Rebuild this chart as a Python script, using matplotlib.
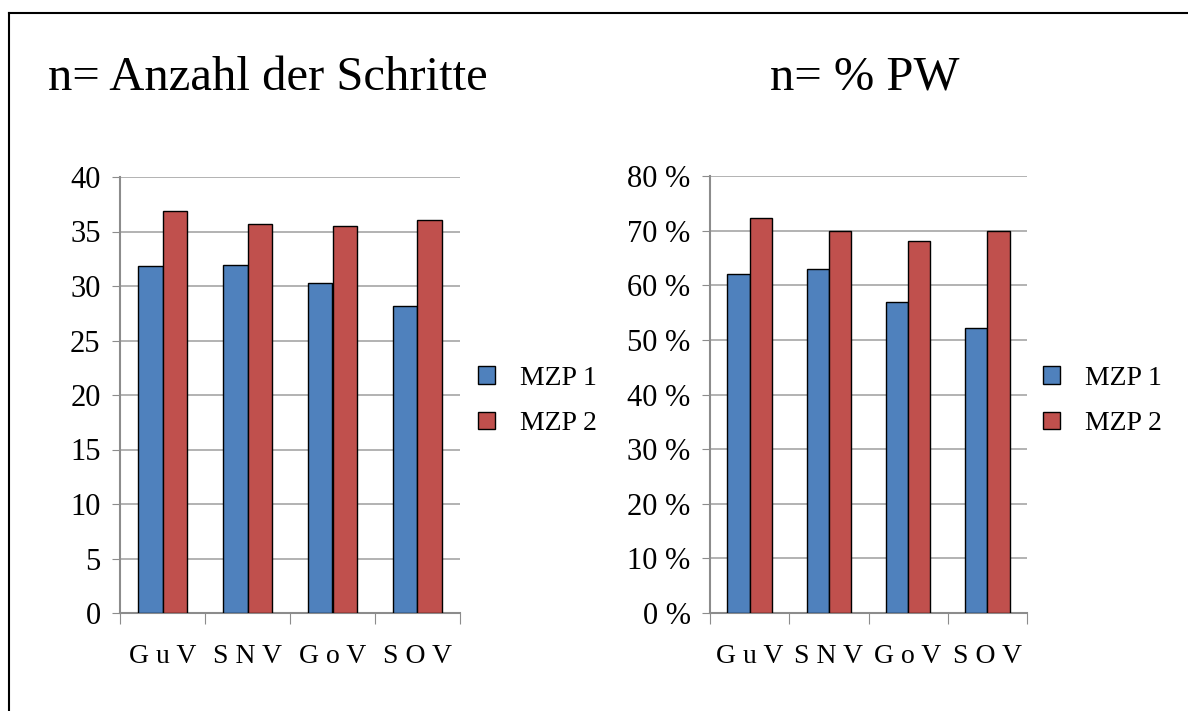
import matplotlib
matplotlib.use('Agg')
import matplotlib.pyplot as plt
from matplotlib.lines import Line2D
from matplotlib.patches import Patch
import numpy as np

plt.rcParams['font.family'] = ['Liberation Serif', 'DejaVu Serif']

kategorien = ['G u V', 'S N V', 'G o V', 'S O V']
schritte_mzp1 = [31.8, 31.9, 30.3, 28.2]
schritte_mzp2 = [36.9, 35.7, 35.5, 36.1]
pw_mzp1 = [62.1, 62.9, 57.0, 52.2]
pw_mzp2 = [72.4, 70.0, 68.1, 70.0]

blau = '#4F81BD'
rot = '#C0504D'
grau = '#8C8C8C'

fig = plt.figure(figsize=(11.88, 7.11), dpi=100)

# Rahmen links und oben
fig.add_artist(Line2D([9/1188, 9/1188], [0, 1 - 13/711], color='black', lw=1.5, transform=fig.transFigure))
fig.add_artist(Line2D([9/1188, 1], [1 - 13/711, 1 - 13/711], color='black', lw=1.5, transform=fig.transFigure))

fig.text(48/1188, 1 - 90/711, 'n= Anzahl der Schritte', fontsize=35, va='baseline')
fig.text(770/1188, 1 - 90/711, 'n= % PW', fontsize=35, va='baseline')


def zeichne(ax, werte1, werte2, ymax, schritt, breite, fmt):
    x = np.arange(len(kategorien))
    ax.bar(x - breite / 2, werte1, breite, color=blau, edgecolor='black', linewidth=1, zorder=3)
    ax.bar(x + breite / 2, werte2, breite, color=rot, edgecolor='black', linewidth=1, zorder=3)
    ax.set_xlim(-0.5, len(kategorien) - 0.5)
    ax.set_ylim(0, ymax)
    yt = np.arange(0, ymax + 0.01, schritt)
    ax.set_yticks(yt)
    ax.set_yticklabels([fmt(v) for v in yt], fontsize=22)
    for lab in ax.get_yticklabels():
        lab.set_verticalalignment('center_baseline')
    ax.set_xticks(np.arange(-0.5, len(kategorien), 1))
    ax.set_xticklabels([])
    ax.set_xticks(x, minor=True)
    ax.set_xticklabels(kategorien, minor=True, fontsize=20)
    ax.tick_params(axis='x', which='minor', length=0, pad=22)
    ax.tick_params(axis='x', which='major', length=8, color=grau, direction='out')
    ax.tick_params(axis='y', length=6, color=grau, pad=8)
    ax.grid(axis='y', color='#A6A6A6', lw=1.2, zorder=0)
    for s in ['top', 'right']:
        ax.spines[s].set_visible(False)
    ax.spines['left'].set_color(grau)
    ax.spines['bottom'].set_color(grau)
    ax.spines['left'].set_linewidth(1.5)
    ax.spines['bottom'].set_linewidth(1.5)
    ax.set_facecolor('none')


ax1 = fig.add_axes([120/1188, 1 - 613/711, 340/1188, 436/711])
zeichne(ax1, schritte_mzp1, schritte_mzp2, 40, 5, 0.29, lambda v: f'{int(v)}')

ax2 = fig.add_axes([710/1188, 1 - 613/711, 317/1188, 437/711])
zeichne(ax2, pw_mzp1, pw_mzp2, 80, 10, 0.28, lambda v: f'{int(v)} %')

handles = [Patch(facecolor=blau, edgecolor='black', label='MZP 1'),
           Patch(facecolor=rot, edgecolor='black', label='MZP 2')]
for lx in (478, 1043):
    fig.legend(handles=handles, loc='center left', bbox_to_anchor=(lx/1188, 1 - 401/711),
               frameon=False, fontsize=20, handlelength=0.6, handleheight=0.6, handletextpad=0.9,
               labelspacing=0.75, borderpad=0, borderaxespad=0)

fig.savefig('out.png', dpi=100)
